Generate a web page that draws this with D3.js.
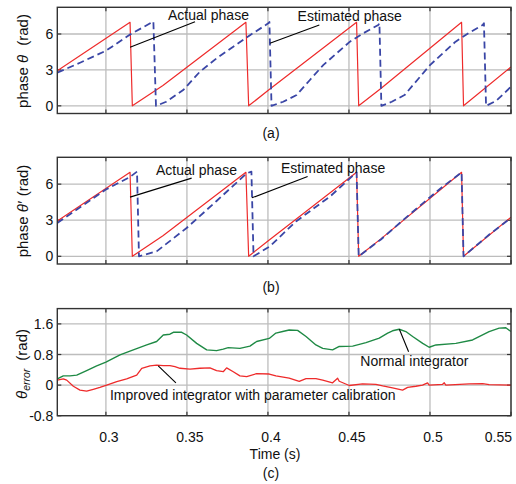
<!DOCTYPE html>
<html>
<head>
<meta charset="utf-8">
<script src="https://cdn.jsdelivr.net/npm/d3@7"></script>
<style>
  body { margin: 0; background: #fff; }
  svg { display: block; font-family: Arial, "Liberation Sans", sans-serif; }
</style>
</head>
<body>
<svg id="chart" width="516" height="484"></svg>
<script>
// DATA

const timeTicks = [0.3, 0.35, 0.4, 0.45, 0.5, 0.55];
const timeTickLabels = ["0.3", "0.35", "0.4", "0.45", "0.5", "0.55"];
const phaseTicks = [0, 3, 6];
const errorTicks = [-0.8, 0, 0.8, 1.6];
const errorTickLabels = ["-0.8", "0", "0.8", "1.6"];

// actual phase (red, same in (a) and (b))
const actualT = [0.2700, 0.3149, 0.3163, 0.3352, 0.3864, 0.3881, 0.4006, 0.4547, 0.4560, 0.4697, 0.5195, 0.5207, 0.5500];
const actualV = [2.93, 6.98, 0, 1.70, 6.98, 0, 1.34, 6.98, 0, 1.45, 6.98, 0, 3.25];

// estimated phase, panel (a)
const estAT = [0.2700, 0.2840, 0.3000, 0.3149, 0.3293, 0.3309, 0.3372, 0.3477, 0.3580, 0.3683, 0.3786, 0.3889,
  0.4002, 0.4009, 0.4022, 0.4094, 0.4177, 0.4259, 0.4341, 0.4424, 0.4506, 0.4588, 0.4681, 0.4688, 0.4700,
  0.4764, 0.4843, 0.4922, 0.5000, 0.5079, 0.5158, 0.5237, 0.5325, 0.5333, 0.5346, 0.5407, 0.5450, 0.5500];
const estAV = [2.77, 3.6, 4.6, 5.95, 7.05, 0, 0.34, 1.32, 2.85, 3.97, 4.94, 5.90,
  6.89, 7.0, 0, 0.34, 0.90, 2.16, 3.40, 4.39, 5.36, 6.06, 6.75, 6.9, 0,
  0.34, 0.90, 2.16, 3.40, 4.39, 5.36, 6.06, 6.75, 6.9, 0, 0.4, 0.95, 1.6];

// estimated phase, panel (b)
const estBT = [0.2700, 0.3000, 0.3149, 0.3192, 0.3204, 0.3313, 0.3498, 0.3683, 0.3869, 0.3898, 0.3911,
  0.4012, 0.4173, 0.4383, 0.4547, 0.4560, 0.4697, 0.4876, 0.5061, 0.5195, 0.5207, 0.5370, 0.5500];
const estBV = [2.77, 5.55, 6.6, 7.04, 0, 0.41, 2.35, 4.6, 6.9, 7.04, 0,
  0.83, 2.9, 4.97, 6.98, 0, 1.40, 3.5, 5.6, 6.98, 0, 1.85, 3.2];

// phase error, panel (c)
const normalT = [0.2700, 0.2737, 0.2778, 0.2820, 0.2881, 0.2943, 0.3000, 0.3087, 0.3169, 0.3252, 0.3313, 0.3354,
  0.3395, 0.3416, 0.3468, 0.3498, 0.3560, 0.3622, 0.3683, 0.3724, 0.3755, 0.3827, 0.3889, 0.3930, 0.4008,
  0.4049, 0.4091, 0.4131, 0.4183, 0.4235, 0.4296, 0.4338, 0.4399, 0.4440, 0.4523, 0.4605, 0.4687, 0.4739,
  0.4769, 0.4810, 0.4851, 0.4893, 0.4955, 0.4995, 0.5037, 0.5160, 0.5263, 0.5365, 0.5427, 0.5468, 0.5500];
const normalV = [0.16, 0.24, 0.24, 0.26, 0.38, 0.50, 0.60, 0.79, 0.92, 1.05, 1.14, 1.31,
  1.33, 1.38, 1.38, 1.31, 1.09, 0.92, 0.90, 0.94, 0.98, 0.96, 1.02, 1.14, 1.22,
  1.36, 1.40, 1.44, 1.43, 1.27, 1.05, 0.96, 0.92, 1.01, 1.02, 1.11, 1.23, 1.36,
  1.42, 1.46, 1.40, 1.27, 1.09, 0.99, 1.05, 1.09, 1.18, 1.40, 1.49, 1.50, 1.40];

const improvedT = [0.2700, 0.2737, 0.2758, 0.2799, 0.2840, 0.2881, 0.2922, 0.2963, 0.3005, 0.3067, 0.3128, 0.3190,
  0.3221, 0.3272, 0.3313, 0.3354, 0.3395, 0.3426, 0.3457, 0.3519, 0.3580, 0.3642, 0.3683, 0.3724, 0.3745,
  0.3786, 0.3827, 0.3869, 0.3930, 0.4008, 0.4049, 0.4131, 0.4193, 0.4235, 0.4296, 0.4338, 0.4399, 0.4430,
  0.4440, 0.4502, 0.4584, 0.4666, 0.4708, 0.4769, 0.4831, 0.4862, 0.4913, 0.4954, 0.4985, 0.4995, 0.5078,
  0.5088, 0.5098, 0.5242, 0.5325, 0.5365, 0.5500];
const improvedV = [0.13, 0.16, 0.13, -0.03, -0.13, -0.16, -0.11, -0.06, 0.0, 0.09, 0.16, 0.26,
  0.44, 0.50, 0.52, 0.51, 0.51, 0.48, 0.44, 0.42, 0.44, 0.45, 0.38, 0.35, 0.45,
  0.35, 0.24, 0.22, 0.30, 0.29, 0.24, 0.18, 0.10, 0.17, 0.17, 0.13, 0.06, 0.18,
  0.10, -0.01, 0.03, 0.02, -0.02, -0.07, -0.13, -0.06, -0.03, 0.0, 0.06, 0.0, 0.02,
  0.06, 0.0, 0.03, 0.04, 0.01, 0.0];

// LAYOUT

const svg = d3.select("#chart");
const left = 57.3, right = 511;
const fs = 14; // label font size

const x = d3.scaleLinear().domain([0.27, 0.55]).range([left, right]);

const panels = [
  { id: "a", top: 7.3, bottom: 113.5, domain: [-0.64, 8.23], ticks: phaseTicks, tickLabels: phaseTicks.map(String),
    caption: "(a)", captionY: 133 },
  { id: "b", top: 157.3, bottom: 264, domain: [-0.64, 8.23], ticks: phaseTicks, tickLabels: phaseTicks.map(String),
    caption: "(b)", captionY: 287 },
  { id: "c", top: 308.6, bottom: 415.7, domain: [-0.8, 2.0], ticks: errorTicks, tickLabels: errorTickLabels,
    caption: "(c)", captionY: 473 }
];

const zip = (ts, vs) => ts.map((t, i) => [t, vs[i]]);

const series = {
  a: [
    { data: zip(actualT, actualV), color: "#ee2b2b", width: 1.2 },
    { data: zip(estAT, estAV), color: "#3a46a6", width: 1.8, dash: "7,4" }
  ],
  b: [
    { data: zip(actualT, actualV), color: "#ee2b2b", width: 1.2 },
    { data: zip(estBT, estBV), color: "#3a46a6", width: 1.8, dash: "7,4" }
  ],
  c: [
    { data: zip(normalT, normalV), color: "#1f8a45", width: 1.4 },
    { data: zip(improvedT, improvedV), color: "#ee2b2b", width: 1.3 }
  ]
};

// annotations in data units: text start [t, v], leader from -> to
const notes = {
  a: [
    { text: "Actual phase", at: [0.3383, 7.21], from: [0.3149, 4.89], to: [0.3550, 7.03] },
    { text: "Estimated phase", at: [0.4183, 7.08], from: [0.4012, 5.22], to: [0.4317, 6.75] }
  ],
  b: [
    { text: "Actual phase", at: [0.3309, 6.77], from: [0.3149, 4.92], to: [0.3529, 6.5] },
    { text: "Estimated phase", at: [0.4080, 6.94], from: [0.3901, 4.86], to: [0.4245, 6.63] }
  ],
  c: [
    { text: "Normal integrator", at: [0.4570, 0.50], from: [0.4811, 1.46], to: [0.4868, 0.87] },
    { text: "Improved integrator with parameter calibration", at: [0.3025, -0.39], from: [0.3323, 0.50], to: [0.3432, 0.06] }
  ]
};

panels.forEach((p) => {
  const y = d3.scaleLinear().domain(p.domain).range([p.bottom, p.top]);
  const g = svg.append("g");

  g.append("clipPath").attr("id", "clip-" + p.id)
    .append("rect").attr("x", left).attr("y", p.top).attr("width", right - left).attr("height", p.bottom - p.top);

  // grid
  g.selectAll(".vg").data(timeTicks).join("line")
    .attr("x1", (d) => x(d)).attr("x2", (d) => x(d)).attr("y1", p.top).attr("y2", p.bottom)
    .attr("stroke", "#bdbdbd").attr("stroke-width", 1.3);
  g.selectAll(".hg").data(p.ticks).join("line")
    .attr("x1", left).attr("x2", right).attr("y1", (d) => y(d)).attr("y2", (d) => y(d))
    .attr("stroke", "#bdbdbd").attr("stroke-width", 1.3);

  // inward ticks on all four sides
  const tk = 4;
  timeTicks.forEach((t) => {
    g.append("line").attr("x1", x(t)).attr("x2", x(t)).attr("y1", p.bottom).attr("y2", p.bottom - tk)
      .attr("stroke", "#333").attr("stroke-width", 1.2);
    g.append("line").attr("x1", x(t)).attr("x2", x(t)).attr("y1", p.top).attr("y2", p.top + tk)
      .attr("stroke", "#333").attr("stroke-width", 1.2);
  });
  p.ticks.forEach((v) => {
    g.append("line").attr("x1", left).attr("x2", left + tk).attr("y1", y(v)).attr("y2", y(v))
      .attr("stroke", "#333").attr("stroke-width", 1.2);
    g.append("line").attr("x1", right).attr("x2", right - tk).attr("y1", y(v)).attr("y2", y(v))
      .attr("stroke", "#333").attr("stroke-width", 1.2);
  });

  // y tick labels
  g.selectAll(".yl").data(p.ticks).join("text")
    .attr("x", left - 4).attr("y", (d) => y(d)).attr("dy", "0.36em")
    .attr("text-anchor", "end").attr("font-size", fs).attr("fill", "#111")
    .text((d, i) => p.tickLabels[i]);

  // curves
  const line = d3.line().x((d) => x(d[0])).y((d) => y(d[1]));
  series[p.id].forEach((s) => {
    g.append("path").datum(s.data)
      .attr("clip-path", `url(#clip-${p.id})`)
      .attr("d", line).attr("fill", "none")
      .attr("stroke", s.color).attr("stroke-width", s.width)
      .attr("stroke-dasharray", s.dash || null)
      .attr("stroke-linejoin", "round");
  });

  // annotations
  notes[p.id].forEach((n) => {
    g.append("line")
      .attr("x1", x(n.from[0])).attr("y1", y(n.from[1]))
      .attr("x2", x(n.to[0])).attr("y2", y(n.to[1]))
      .attr("stroke", "#000").attr("stroke-width", 1.1);
    g.append("text").attr("x", x(n.at[0])).attr("y", y(n.at[1]))
      .attr("font-size", fs).attr("fill", "#111").text(n.text);
  });

  // frame
  g.append("rect").attr("x", left).attr("y", p.top)
    .attr("width", right - left).attr("height", p.bottom - p.top)
    .attr("fill", "none").attr("stroke", "#333").attr("stroke-width", 1.4);

  // caption
  svg.append("text").attr("x", 271).attr("y", p.captionY).attr("dy", "0.36em")
    .attr("text-anchor", "middle").attr("font-size", fs).attr("fill", "#111").text(p.caption);
});

// x tick labels, bottom panel only
const lastTick = timeTicks.length - 1;
svg.selectAll(".xl").data(timeTicks).join("text")
  .attr("x", (d, i) => (i === lastTick ? right + 1 : x(d) + 3))
  .attr("y", 437).attr("dy", "0.36em")
  .attr("text-anchor", (d, i) => (i === lastTick ? "end" : "middle"))
  .attr("font-size", fs).attr("fill", "#111")
  .text((d, i) => timeTickLabels[i]);

svg.append("text").attr("x", 275).attr("y", 454).attr("dy", "0.36em")
  .attr("text-anchor", "middle").attr("font-size", fs).attr("fill", "#111").text("Time (s)");

// y-axis titles
function phaseTitle(cy, prime) {
  const t = svg.append("text")
    .attr("transform", `translate(23,${cy}) rotate(-90)`)
    .attr("text-anchor", "middle").attr("dy", "0.36em")
    .attr("font-size", 15).attr("fill", "#111");
  t.append("tspan").text("phase ");
  t.append("tspan").attr("font-style", "italic").text("θ" + (prime ? "′" : ""));
  t.append("tspan").attr("dx", prime ? 5 : 9).text("(rad)");
}
phaseTitle(61, false);
phaseTitle(211, true);

const et = svg.append("text")
  .attr("transform", "translate(22,364) rotate(-90)")
  .attr("text-anchor", "middle").attr("dy", "0.36em")
  .attr("font-size", 15).attr("fill", "#111");
et.append("tspan").attr("font-style", "italic").text("θ");
et.append("tspan").attr("font-style", "italic").attr("font-size", 10.5).attr("dy", 3).text("error");
et.append("tspan").attr("dy", -3).attr("dx", 8).text("(rad)");
</script>
</body>
</html>
